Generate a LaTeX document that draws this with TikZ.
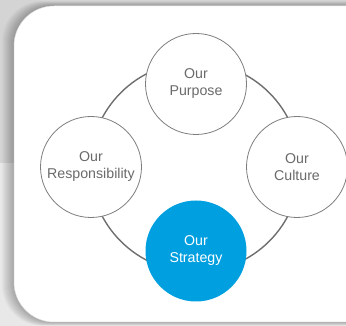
\documentclass[tikz,border=0pt]{standalone}
\usepackage{xcolor}
\usepackage{fontspec}
\setmainfont{Liberation Sans}
\usepackage{tikz}

\definecolor{ringgray}{HTML}{6E6E6E}
\definecolor{textgray}{HTML}{6A6A6A}
\definecolor{stratblue}{HTML}{009FDF}

\begin{document}
\begin{tikzpicture}[x=1pt, y=-1pt,
    pillar/.style={circle, draw=ringgray!90, line width=0.8pt, fill=white,
        minimum size=101pt, inner sep=0pt, align=center, text=textgray,
        font=\fontsize{14.2}{17}\selectfont},
    focus/.style={pillar, draw=none, fill=stratblue, text=white}]
    \useasboundingbox (0,0) rectangle (346,326);
    \clip (0,0) rectangle (346,326);
    % grey backdrop, darker in the upper half
    \fill[black!9] (0,0) rectangle (346,326);
    \fill[black!17] (0,0) rectangle (346,163);
    % soft shadow round the card
    \foreach \s in {1,...,12}
        \fill[black, opacity=0.025, rounded corners=40pt]
            (14-\s,6-0.4*\s) rectangle (400,322+0.3*\s);
    % white card
    \fill[white, draw=black!12, line width=0.5pt, rounded corners=40pt]
        (14,6) rectangle (400,322);
    % ring behind the four circles
    \draw[ringgray, line width=1.4pt] (195,167) circle (105pt);
    \node[pillar] (purpose) at (196,84) {Our\\Purpose};
    \node[pillar] (resp) at (91,167) {Our\\Responsibility};
    \node[pillar] (culture) at (297,167) {Our\\Culture};
    \node[focus] (strategy) at (196,251) {Our\\Strategy};
\end{tikzpicture}
\end{document}
